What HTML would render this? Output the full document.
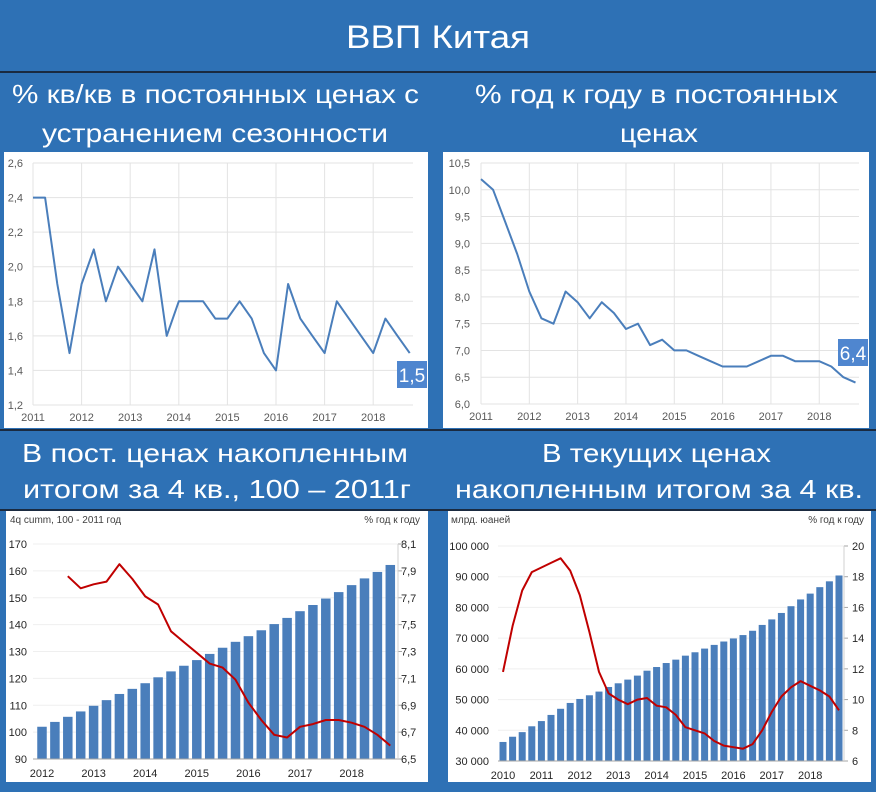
<!DOCTYPE html>
<html><head><meta charset="utf-8">
<style>
html,body{margin:0;padding:0;background:#2e71b5;}
svg{display:block;font-family:"Liberation Sans",sans-serif;}
.hd{fill:#fff;}
.tk{fill:#595959;font-size:11px;}
</style></head>
<body>
<svg id="root" width="876" height="792" viewBox="0 0 876 792">
<rect x="0" y="0" width="876" height="792" fill="#2e71b5"/>
<text class="hd" x="438" y="48" font-size="32" text-anchor="middle" textLength="184" lengthAdjust="spacingAndGlyphs">ВВП Китая</text>
<line x1="0" y1="72" x2="876" y2="72" stroke="#1a2a40" stroke-width="2"/>
<text class="hd" x="12" y="103" font-size="26" textLength="407" lengthAdjust="spacingAndGlyphs">% кв/кв в постоянных ценах с</text>
<text class="hd" x="42" y="142" font-size="26" textLength="346" lengthAdjust="spacingAndGlyphs">устранением сезонности</text>
<text class="hd" x="475" y="103" font-size="26" textLength="363" lengthAdjust="spacingAndGlyphs">% год к году в постоянных</text>
<text class="hd" x="620" y="142" font-size="26" textLength="78" lengthAdjust="spacingAndGlyphs">ценах</text>
<line x1="0" y1="430" x2="876" y2="430" stroke="#1a2a40" stroke-width="2"/>
<text class="hd" x="22" y="462" font-size="26" textLength="386" lengthAdjust="spacingAndGlyphs">В пост. ценах накопленным</text>
<text class="hd" x="23" y="498" font-size="26" textLength="388" lengthAdjust="spacingAndGlyphs">итогом за 4 кв., 100 – 2011г</text>
<text class="hd" x="542" y="462" font-size="26" textLength="229" lengthAdjust="spacingAndGlyphs">В текущих ценах</text>
<text class="hd" x="455" y="498" font-size="26" textLength="408" lengthAdjust="spacingAndGlyphs">накопленным итогом за 4 кв.</text>
<line x1="0" y1="510" x2="876" y2="510" stroke="#1a2a40" stroke-width="2"/>
<rect x="4" y="152" width="424" height="276" fill="#fff"/>
<rect x="443" y="152" width="426" height="276" fill="#fff"/>
<rect x="6" y="511" width="422" height="271" fill="#fff"/>
<rect x="448" y="511" width="423" height="271" fill="#fff"/>
<g id="g1"></g>
<g id="g2"></g>
<g id="g3"></g>
<g id="g4"></g>
</svg>
<script>
// Chart 1: % q/q sa
const qoqYears = ["2011","2012","2013","2014","2015","2016","2017","2018"];
const qoqTicks = [1.2,1.4,1.6,1.8,2.0,2.2,2.4,2.6];
const qoqValues = [2.4,2.4,1.9,1.5,1.9,2.1,1.8,2.0,1.9,1.8,2.1,1.6,1.8,1.8,1.8,1.7,1.7,1.8,1.7,1.5,1.4,1.9,1.7,1.6,1.5,1.8,1.7,1.6,1.5,1.7,1.6,1.5];
// Chart 2: % y/y
const yoyYears = ["2011","2012","2013","2014","2015","2016","2017","2018"];
const yoyTicks = [6.0,6.5,7.0,7.5,8.0,8.5,9.0,9.5,10.0,10.5];
const yoyValues = [10.2,10.0,9.4,8.8,8.1,7.6,7.5,8.1,7.9,7.6,7.9,7.7,7.4,7.5,7.1,7.2,7.0,7.0,6.9,6.8,6.7,6.7,6.7,6.8,6.9,6.9,6.8,6.8,6.8,6.7,6.5,6.4];
// Chart 3: constant prices 4q cumm
const constYears = ["2012","2013","2014","2015","2016","2017","2018"];
const constLeftTicks = [90,100,110,120,130,140,150,160,170];
const constRightTicks = [6.5,6.7,6.9,7.1,7.3,7.5,7.7,7.9,8.1];
const constBars = [102,103.8,105.7,107.7,109.8,111.9,114.2,116.1,118.2,120.4,122.6,124.7,126.8,129.1,131.4,133.6,135.7,137.9,140.2,142.5,145,147.3,149.7,152.1,154.7,157.2,159.6,162.2];
const constLine = [null,null,7.86,7.77,7.80,7.82,7.95,7.84,7.71,7.65,7.45,7.37,7.29,7.21,7.18,7.09,6.92,6.79,6.68,6.66,6.74,6.76,6.79,6.79,6.77,6.74,6.68,6.60];
// Chart 4: current prices 4q cumm
const curYears = ["2010","2011","2012","2013","2014","2015","2016","2017","2018"];
const curLeftTicks = [30000,40000,50000,60000,70000,80000,90000,100000];
const curRightTicks = [6,8,10,12,14,16,18,20];
const curBars = [36200,37900,39400,41300,43000,45000,47000,48900,50200,51400,52600,54100,55300,56500,57800,59400,60600,61900,63000,64300,65400,66600,67800,68900,69900,71000,72400,74300,76100,78200,80400,82600,84500,86600,88500,90400];
const curLine = [11.8,14.8,17.1,18.3,18.6,18.9,19.2,18.4,16.8,14.4,11.8,10.4,10.0,9.7,10.0,10.1,9.6,9.5,9.0,8.2,8.0,7.8,7.3,7.0,6.9,6.8,7.1,8.0,9.2,10.2,10.8,11.2,10.9,10.6,10.2,9.3];

const NS="http://www.w3.org/2000/svg";
function mk(parent,tag,attrs,text){const e=document.createElementNS(NS,tag);for(const k in attrs)e.setAttribute(k,attrs[k]);if(text!==undefined)e.textContent=text;parent.appendChild(e);return e;}
function fmt1(v){return v.toFixed(1).replace('.',',');}
function fmtK(v){return v>=1000?String(v).replace(/\B(?=(\d{3})+(?!\d))/g,' '):String(v);}

// Line chart helper
function lineChart(g,o){
  const ys=v=>o.y0+(o.vmax-v)/(o.vmax-o.vmin)*(o.y1-o.y0);
  const xs=i=>o.x0+i*o.step;
  o.ticks.forEach(t=>{
    const l=mk(g,'line',{x1:o.x0,x2:o.gx1,y1:ys(t),y2:ys(t),stroke:'#e3e3e3','stroke-width':1});
    
    
    const tx=mk(g,'text',{x:o.lx,y:ys(t)+4,'text-anchor':'end',class:'tk'},fmt1(t));
    
    
  });
  o.years.forEach((yr,k)=>{
    const x=xs(k*4);
    const l=mk(g,'line',{x1:x,x2:x,y1:o.y0,y2:o.y1,stroke:'#e3e3e3','stroke-width':1});
    
    
    const tx=mk(g,'text',{x:x,y:o.y1+16,'text-anchor':'middle',class:'tk'},yr);
    
    
  });
  const pts=o.values.map((v,i)=>xs(i).toFixed(1)+','+ys(v).toFixed(1)).join(' ');
  const pl=mk(g,'polyline',{points:pts,fill:'none',stroke:'#4a7ebb','stroke-width':2,'stroke-linejoin':'round'});
  
  
  const last=o.values[o.values.length-1];
  const r=mk(g,'rect',{x:o.bx,y:o.by,width:30,height:27,fill:'#4f86cf'});
  
  
  const t=mk(g,'text',{x:o.bx+15,y:o.by+21,'text-anchor':'middle',fill:'#fff','font-size':19},fmt1(last));
  
  
}
lineChart(document.getElementById('g1'),{x0:33,gx1:413,step:12.15,y0:163,y1:405,vmin:1.2,vmax:2.6,ticks:qoqTicks,years:qoqYears,values:qoqValues,lx:23,bx:397,by:361});
lineChart(document.getElementById('g2'),{x0:481,gx1:859,step:12.08,y0:163,y1:404,vmin:6.0,vmax:10.5,ticks:yoyTicks,years:yoyYears,values:yoyValues,lx:470,bx:838,by:339});

// Bar + line combo chart helper
function comboChart(g,o){
  const yl=v=>o.y0+(o.lmax-v)/(o.lmax-o.lmin)*(o.y1-o.y0);
  const yr=v=>o.y0+(o.rmax-v)/(o.rmax-o.rmin)*(o.y1-o.y0);
  const xs=i=>o.bx0+i*o.step;
  const h1=mk(g,'text',{x:o.hlx,y:o.hy,'font-size':10,fill:'#404040'},o.lt);
  
  
  const h2=mk(g,'text',{x:o.hrx,y:o.hy,'font-size':10,fill:'#404040','text-anchor':'end'},'% год к году');
  
  
  o.lticks.forEach(t=>{
    const l=mk(g,'line',{x1:o.ax0,x2:o.ax1,y1:yl(t),y2:yl(t),stroke:'#efefef','stroke-width':1});
    
    
    const tx=mk(g,'text',{x:o.llx,y:yl(t)+4,'text-anchor':'end','font-size':11,fill:'#262626'},o.lfmt(t));
    
    
  });
  o.rticks.forEach(t=>{
    const tk=mk(g,'line',{x1:o.ax1,x2:o.ax1+4,y1:yr(t),y2:yr(t),stroke:'#a6a6a6'});
    
    
    const tx=mk(g,'text',{x:o.rlx,y:yr(t)+4,'font-size':11,fill:'#262626'},o.rfmt(t));
    
    
  });
  o.bars.forEach((v,i)=>{
    const b=mk(g,'rect',{x:xs(i)-o.bw/2,y:yl(v),width:o.bw,height:yl(o.lmin)-yl(v),fill:'#4a7ebb'});
    
    
  });
  const ax=mk(g,'line',{x1:o.ax0,x2:o.ax1,y1:o.y1,y2:o.y1,stroke:'#a6a6a6'});
  
  
  const ay=mk(g,'line',{x1:o.ax1,x2:o.ax1,y1:o.y0,y2:o.y1,stroke:'#d0d0d0'});
  
  
  o.years.forEach((yrs,k)=>{
    const tx=mk(g,'text',{x:xs(k*4),y:o.y1+18,'text-anchor':'middle','font-size':11,fill:'#262626'},yrs);
    
    
  });
  const pts=[];
  o.line.forEach((v,i)=>{if(v!==null)pts.push(xs(i).toFixed(1)+','+yr(v).toFixed(1));});
  const pl=mk(g,'polyline',{points:pts.join(' '),fill:'none',stroke:'#c00000','stroke-width':2,'stroke-linejoin':'round'});
  
  
}
comboChart(document.getElementById('g3'),{bx0:42,step:12.9,bw:9.5,y0:544,y1:759,lmin:90,lmax:170,rmin:6.5,rmax:8.1,lticks:constLeftTicks,rticks:constRightTicks,bars:constBars,line:constLine,years:constYears,ax0:33,ax1:398,llx:27,rlx:401,hlx:10,hrx:420,hy:523,lt:'4q cumm, 100 - 2011 год',lfmt:v=>String(v),rfmt:fmt1});
comboChart(document.getElementById('g4'),{bx0:503,step:9.6,bw:7,y0:546,y1:761,lmin:30000,lmax:100000,rmin:6,rmax:20,lticks:curLeftTicks,rticks:curRightTicks,bars:curBars,line:curLine,years:curYears,ax0:498,ax1:844,llx:489,rlx:852,hlx:451,hrx:864,hy:523,lt:'млрд. юаней',lfmt:fmtK,rfmt:v=>String(v)});
</script>
</body></html>
